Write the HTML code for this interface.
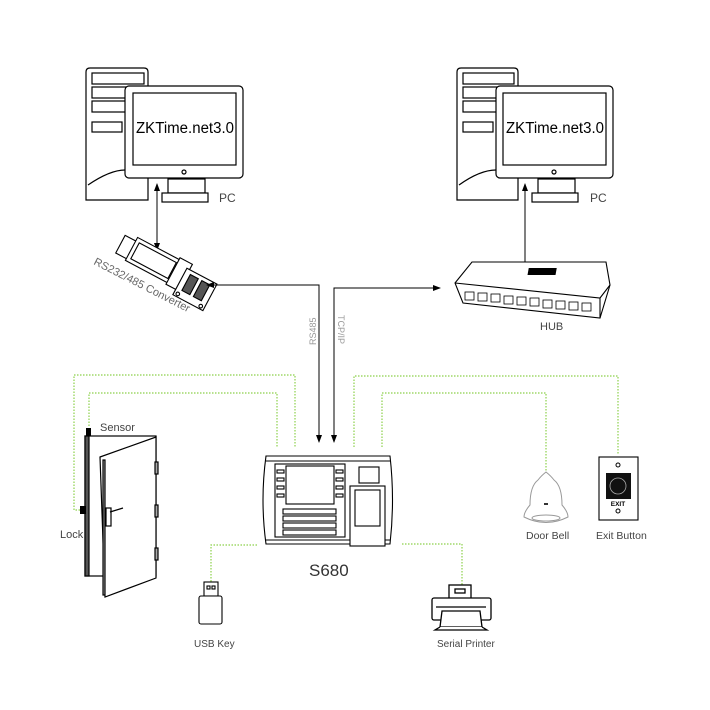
<!DOCTYPE html>
<html><head><meta charset="utf-8"><style>
html,body{margin:0;padding:0;background:#fff;}
svg{display:block;font-family:"Liberation Sans",sans-serif;}
</style></head><body>
<svg width="710" height="710" viewBox="0 0 710 710" xmlns="http://www.w3.org/2000/svg">
<defs>
<marker id="ah" markerWidth="8" markerHeight="8" refX="7" refY="4" orient="auto" markerUnits="userSpaceOnUse">
<path d="M0,1 L8,4 L0,7 z" fill="#000"/></marker>
<marker id="as" markerWidth="8" markerHeight="8" refX="1" refY="4" orient="auto" markerUnits="userSpaceOnUse">
<path d="M8,1 L0,4 L8,7 z" fill="#000"/></marker>
</defs>
<rect width="710" height="710" fill="#fff"/>

<!-- Left PC -->
<g stroke="#000" fill="#fff" stroke-width="1.2">
<path d="M86,200 L86,72 Q86,68 90,68 L144,68 Q148,68 148,72 L148,200 Z"/>
<rect x="92" y="73" width="52" height="11"/><rect x="92" y="87" width="52" height="11"/><rect x="92" y="101" width="52" height="11"/><rect x="92" y="122" width="30" height="10"/>
<path d="M88,185 Q110,170 125,170" fill="none"/>
<rect x="125" y="86" width="118" height="92" rx="4"/>
<rect x="133" y="93" width="103" height="72"/>
<circle cx="184" cy="172" r="2"/>
<rect x="168" y="179" width="37" height="14"/>
<rect x="162" y="193" width="46" height="9"/>
</g>
<text x="136" y="133" font-size="15.5" textLength="98" lengthAdjust="spacingAndGlyphs">ZKTime.net3.0</text>
<text x="219" y="202" font-size="12" fill="#444">PC</text>

<!-- Right PC -->
<g stroke="#000" fill="#fff" stroke-width="1.2">
<path d="M457,200 L457,72 Q457,68 461,68 L514,68 Q518,68 518,72 L518,200 Z"/>
<rect x="463" y="73" width="51" height="11"/><rect x="463" y="87" width="51" height="11"/><rect x="463" y="101" width="51" height="11"/><rect x="463" y="122" width="30" height="10"/>
<path d="M459,185 Q480,170 496,170" fill="none"/>
<rect x="496" y="86" width="117" height="92" rx="4"/>
<rect x="503" y="93" width="103" height="72"/>
<circle cx="554" cy="172" r="2"/>
<rect x="538" y="179" width="37" height="14"/>
<rect x="532" y="193" width="46" height="9"/>
</g>
<text x="506" y="133" font-size="15.5" textLength="98" lengthAdjust="spacingAndGlyphs">ZKTime.net3.0</text>
<text x="590" y="202" font-size="12" fill="#444">PC</text>

<!-- arrows PC -->
<line x1="157" y1="184" x2="157" y2="250" stroke="#000" stroke-width="1" marker-start="url(#as)" marker-end="url(#ah)"/>
<line x1="525" y1="184" x2="525" y2="288" stroke="#000" stroke-width="1" marker-start="url(#as)" marker-end="url(#ah)"/>

<!-- Converter -->
<g stroke="#000" fill="#fff" stroke-width="1.1" transform="rotate(28 160 272)">
<rect x="112" y="256" width="14" height="20"/>
<rect x="124" y="252" width="50" height="26"/>
<rect x="128" y="256" width="42" height="18"/>
<rect x="171" y="250" width="14" height="30"/>
<rect x="182" y="256" width="34" height="30"/>
<rect x="188" y="260" width="9" height="18" fill="#555"/>
<rect x="201" y="260" width="9" height="18" fill="#555"/>
<circle cx="186" cy="283" r="1.8"/><circle cx="212" cy="283" r="1.8"/>
</g>
<text transform="translate(93,264) rotate(27)" font-size="11" fill="#666">RS232/485 Converter</text>

<!-- HUB -->
<g stroke="#000" fill="#fff" stroke-width="1.1">
<path d="M455,283 L472,262 L606,262 L610,285 L600,318 L463,303 Z"/>
<path d="M455,283 L600,298 L610,285" fill="none"/>
<path d="M600,298 L600,318" fill="none"/>
</g>
<g fill="#000">
<rect x="528" y="268" width="28" height="7" transform="skewX(-10) translate(48,0)"/>
</g>
<g stroke="#000" fill="#fff" stroke-width="0.8">
<rect x="465" y="292" width="9" height="8"/><rect x="478" y="293" width="9" height="8"/><rect x="491" y="294" width="9" height="8"/><rect x="504" y="296" width="9" height="8"/><rect x="517" y="297" width="9" height="8"/><rect x="530" y="298" width="9" height="8"/><rect x="543" y="300" width="9" height="8"/><rect x="556" y="301" width="9" height="8"/><rect x="569" y="302" width="9" height="8"/><rect x="582" y="303" width="9" height="8"/>
</g>
<text x="540" y="330" font-size="11" fill="#444">HUB</text>

<!-- RS485 / TCPIP lines -->
<polyline points="207,285 319,285 319,442" fill="none" stroke="#000" stroke-width="1" marker-end="url(#ah)"/>
<line x1="319" y1="285" x2="207" y2="285" stroke="#000" stroke-width="1" marker-end="url(#ah)"/>
<polyline points="334,442 334,288 440,288" fill="none" stroke="#000" stroke-width="1" marker-end="url(#ah)"/>
<line x1="334" y1="300" x2="334" y2="442" stroke="#000" stroke-width="1" marker-end="url(#ah)"/>
<text transform="translate(316,345) rotate(-90)" font-size="9" fill="#999">RS485</text>
<text transform="translate(338,315) rotate(90)" font-size="9" fill="#999">TCP/IP</text>

<!-- green dotted -->
<g fill="none" stroke="#8cd04a" stroke-width="1.2" stroke-dasharray="1.5,1.5">
<polyline points="80,510 74,510 74,375 295,375 295,448"/>
<polyline points="89,426 89,393 277,393 277,447"/>
<polyline points="354,447 354,376 618,376 618,455"/>
<polyline points="382,447 382,393 546,393 546,472"/>
<polyline points="402,544 462,544 462,585"/>
<polyline points="257,545 211,545 211,585"/>
</g>

<!-- S680 -->
<g stroke="#000" fill="#fff" stroke-width="1.1">
<path d="M266,456 L390,456 Q395,500 390,544 L266,544 Q260,500 266,456 Z"/>
<line x1="266" y1="461" x2="390" y2="461"/>
<line x1="266" y1="540" x2="390" y2="540"/>
<rect x="275" y="464" width="70" height="73"/>
<rect x="286" y="466" width="48" height="38"/>
<rect x="277" y="470" width="7" height="3"/><rect x="277" y="478" width="7" height="3"/><rect x="277" y="486" width="7" height="3"/><rect x="277" y="494" width="7" height="3"/>
<rect x="336" y="470" width="7" height="3"/><rect x="336" y="478" width="7" height="3"/><rect x="336" y="486" width="7" height="3"/><rect x="336" y="494" width="7" height="3"/>
<rect x="283" y="509" width="53" height="5"/><rect x="283" y="516" width="53" height="5"/><rect x="283" y="523" width="53" height="5"/><rect x="283" y="530" width="53" height="5"/>
<rect x="359" y="467" width="20" height="16"/>
<rect x="350" y="486" width="35" height="60"/>
<rect x="355" y="490" width="25" height="36"/>
</g>
<text x="309" y="576" font-size="17" fill="#333">S680</text>

<!-- Door -->
<g stroke="#000" stroke-width="1.2" fill="#fff">
<rect x="85" y="436" width="71" height="140"/>
<rect x="85" y="436" width="4" height="140" fill="#555"/>
<path d="M100,457 L156,437 L156,578 L105,597 Z"/>
<rect x="103" y="460" width="2" height="135" fill="#aaa"/>
<rect x="155" y="462" width="3" height="12" fill="#aaa"/><rect x="155" y="505" width="3" height="12" fill="#aaa"/><rect x="155" y="548" width="3" height="12" fill="#aaa"/>
<rect x="106" y="508" width="5" height="18"/>
<line x1="110" y1="512" x2="123" y2="508"/>
</g>
<rect x="86" y="428" width="5" height="8" fill="#000"/>
<rect x="80" y="506" width="6" height="8" fill="#000"/>
<text x="100" y="431" font-size="11" fill="#444">Sensor</text>
<text x="60" y="538" font-size="11" fill="#444">Lock</text>

<!-- USB -->
<g stroke="#000" stroke-width="1.1" fill="#fff">
<rect x="204" y="582" width="14" height="14"/>
<rect x="199" y="596" width="23" height="28" rx="2"/>
<rect x="207" y="586" width="3" height="3"/><rect x="212" y="586" width="3" height="3"/>
</g>
<text x="194" y="647" font-size="10" fill="#444">USB Key</text>

<!-- Printer -->
<g stroke="#000" stroke-width="1.3" fill="#fff">
<rect x="449" y="585" width="22" height="14"/>
<rect x="455" y="589" width="10" height="4"/>
<rect x="432" y="598" width="59" height="22" rx="2"/>
<line x1="436" y1="607" x2="486" y2="607"/>
<path d="M442,611 L480,611 L482,627 L440,627 Z"/>
<path d="M440,627 L435,630 L487,630 L482,627"/>
</g>
<text x="437" y="647" font-size="10" fill="#444">Serial Printer</text>

<!-- Door bell -->
<g stroke="#999" stroke-width="1" fill="#fff">
<path d="M546,472 Q541,476 538,480 Q530,486 530,505 Q524,512 524,517 Q546,528 568,517 Q568,512 562,505 Q562,486 554,480 Q551,476 546,472 Z"/>
<ellipse cx="546" cy="518" rx="14" ry="3"/>
</g>
<rect x="544" y="503" width="4" height="2" fill="#333"/>
<text x="526" y="539" font-size="10.5" fill="#444">Door Bell</text>

<!-- Exit button -->
<rect x="599" y="457" width="39" height="63" fill="#fff" stroke="#000" stroke-width="1.1"/>
<circle cx="618" cy="465" r="2" fill="none" stroke="#000"/>
<rect x="606" y="473" width="25" height="26" fill="#111"/>
<circle cx="618" cy="486" r="8" fill="none" stroke="#aaa" stroke-width="0.8"/>
<text x="618" y="506" font-size="6.5" font-weight="bold" text-anchor="middle">EXIT</text>
<circle cx="618" cy="511" r="2" fill="none" stroke="#000"/>
<text x="596" y="539" font-size="10.5" fill="#444">Exit Button</text>
</svg>
</body></html>
